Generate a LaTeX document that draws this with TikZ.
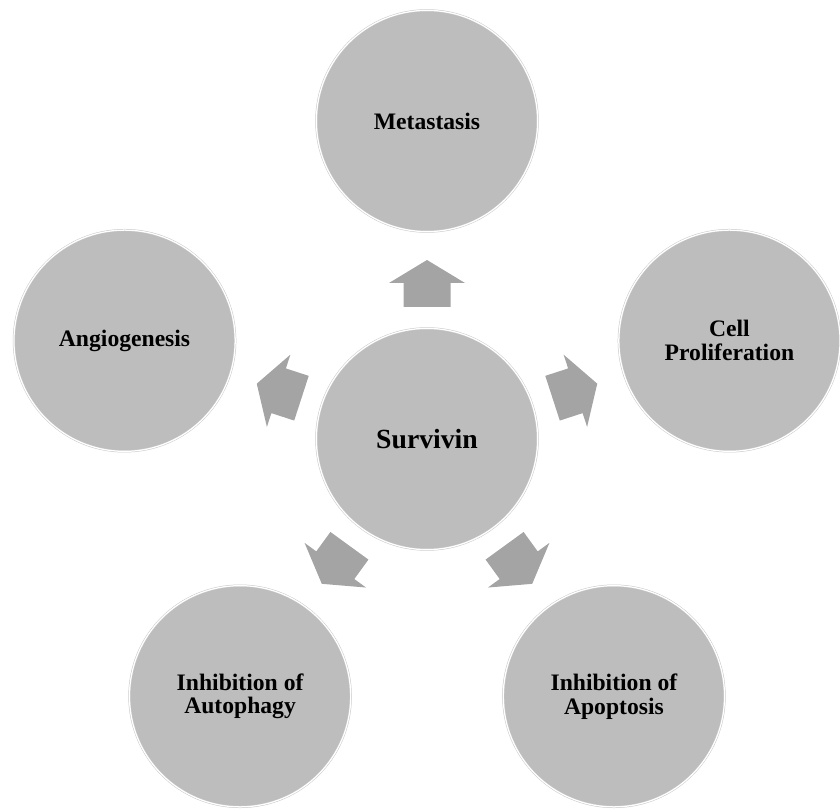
\documentclass[tikz,border=0pt]{standalone}
\usepackage{fontspec}
\setmainfont{Liberation Serif}
\usetikzlibrary{calc}
\definecolor{circfill}{gray}{0.74}
\definecolor{arrfill}{gray}{0.645}
\tikzset{
  bubble/.style={circle, fill=circfill, draw=black!22, double=white, double distance=0.9pt,
    line width=0.35pt, minimum size=5.53cm, inner sep=0pt, align=center,
    font=\fontsize{16.8}{17}\selectfont\bfseries},
  blockarrow/.style={fill=arrfill, draw=none}
}
\begin{document}
\begin{tikzpicture}[x=0.025cm,y=0.025cm]
\useasboundingbox (0,0) rectangle (840,809);
\node[bubble, font=\fontsize{19.7}{21}\selectfont\bfseries] (s) at (427,370) {Survivin};
\node[bubble] (met) at ($(s)+(90:318)$) {Metastasis};
\node[bubble] (cell) at ($(s)+(18:318)$) {Cell\\Proliferation};
\node[bubble] (ang) at ($(s)+(162:318)$) {Angiogenesis};
\node[bubble] (aut) at ($(s)+(234:318)$) {Inhibition of\\Autophagy};
\node[bubble] (apo) at ($(s)+(306:318)$) {Inhibition of\\Apoptosis};
\foreach \ang/\nm in {90/met,18/cell,162/ang,234/aut,306/apo}{
  \begin{scope}[shift={(s.center)}, rotate=\ang]
    \fill[blockarrow] (132,-23.5) -- (156,-23.5) -- (156,-38) -- (179,0)
      -- (156,38) -- (156,23.5) -- (132,23.5) -- cycle;
  \end{scope}
}
\end{tikzpicture}
\end{document}
